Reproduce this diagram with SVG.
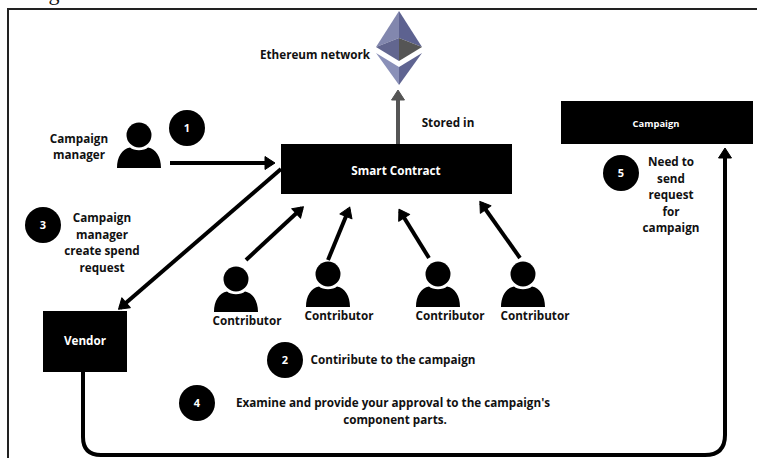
<svg xmlns="http://www.w3.org/2000/svg" width="757" height="458" viewBox="0 0 757 458">
<style>
text{font-family:"Open Sans","Liberation Sans",sans-serif;font-weight:700;font-size:11.700px;fill:#111;text-anchor:middle}
.w{fill:#fff}
.box{fill:#000}
.num{fill:#fff;font-size:11px;font-weight:700}
.c{fill:none;stroke:#000;stroke-width:4}
</style>
<defs>
<marker id="ah" markerUnits="userSpaceOnUse" markerWidth="16" markerHeight="16" refX="10" refY="8" orient="auto"><path d="M2 1.500L12 8L2 14.500Z" fill="#000" stroke="#000" stroke-linejoin="round"/></marker>
<marker id="ag" markerUnits="userSpaceOnUse" markerWidth="16" markerHeight="16" refX="10" refY="8" orient="auto"><path d="M2 1.500L12 8L2 14.500Z" fill="#555" stroke="#555" stroke-linejoin="round"/></marker>
<g id="person"><circle cx="0" cy="0" r="12.500"/><path d="M-22 33C-22 22-17 14-9 12.500C-5 16 5 16 9 12.500C17 14 22 22 22 33Z"/></g>
</defs>
<rect width="757" height="458" fill="#fff"/>
<text x="54" y="0" style="font-family:'Liberation Serif',serif;font-size:22px;font-weight:400">g</text>
<path d="M8 458V9H757" fill="none" stroke="#222" stroke-width="2"/>
<g id="connectors">
<path class="c" style="stroke:#555" d="M398 144V92" marker-end="url(#ag)"/>
<path class="c" d="M170 163H273" marker-end="url(#ah)"/>
<path class="c" d="M281 169L120 308" marker-end="url(#ah)"/>
<path class="c" d="M246 260L302 208" marker-end="url(#ah)"/>
<path class="c" d="M328 260L349 209" marker-end="url(#ah)"/>
<path class="c" d="M429 258L400 211" marker-end="url(#ah)"/>
<path class="c" d="M520 258L481 203" marker-end="url(#ah)"/>
<path class="c" d="M83 372V437Q83 455 101 455H705Q725 455 725 435V150" marker-end="url(#ah)"/>
</g>
<g id="ethereum">
<path d="M399 11L376 47L399 38Z" fill="#8287ae"/><path d="M399 11L422 47L399 38Z" fill="#5d6290"/>
<path d="M376 47L399 38V61Z" fill="#62668f"/><path d="M422 47L399 38V61Z" fill="#555"/>
<path d="M376 53L399 67V85Z" fill="#8a90b8"/><path d="M422 53L399 67V85Z" fill="#5f6491"/>
<text x="315" y="59">Ethereum network</text>
</g>
<g id="smart-contract"><rect class="box" x="281" y="144" width="231" height="50"/><text class="w" x="396" y="175">Smart Contract</text></g>
<g id="campaign"><rect class="box" x="561" y="101" width="192" height="43"/><text class="w" x="656" y="127" style="font-size:9.400px">Campaign</text></g>
<g id="vendor"><rect class="box" x="43" y="311" width="84" height="61"/><text class="w" x="85" y="345">Vendor</text></g>
<g id="manager"><use href="#person" transform="translate(139 135)"/><text x="79" y="143">Campaign</text><text x="79" y="159">manager</text></g>
<g id="contributor-1"><use href="#person" transform="translate(236 279)"/><text x="247" y="325">Contributor</text></g>
<g id="contributor-2"><use href="#person" transform="translate(328 274)"/><text x="339" y="320">Contributor</text></g>
<g id="contributor-3"><use href="#person" transform="translate(438 274)"/><text x="450" y="320">Contributor</text></g>
<g id="contributor-4"><use href="#person" transform="translate(523 274)"/><text x="535" y="320">Contributor</text></g>
<g id="step-1"><circle cx="187" cy="128" r="18"/><text class="num" x="187" y="132">1</text></g>
<g id="step-2"><circle cx="285" cy="360" r="18"/><text class="num" x="285" y="364">2</text><text x="393" y="364">Contiribute to the campaign</text></g>
<g id="step-3"><circle cx="43" cy="225" r="18"/><text class="num" x="43" y="229">3</text><text x="102" y="222">Campaign</text><text x="102" y="239">manager</text><text x="102" y="255">create spend</text><text x="102" y="272">request</text></g>
<g id="step-4"><circle cx="197" cy="403" r="18"/><text class="num" x="197" y="407">4</text><text x="393" y="407">Examine and provide your approval to the campaign's</text><text x="395" y="424">component parts.</text></g>
<g id="step-5"><circle cx="621" cy="173" r="18"/><text class="num" x="621" y="177">5</text><text x="671" y="166">Need to</text><text x="671" y="183">send</text><text x="671" y="199">request</text><text x="671" y="216">for</text><text x="671" y="232">campaign</text></g>
<text x="448" y="127">Stored in</text>
</svg>
